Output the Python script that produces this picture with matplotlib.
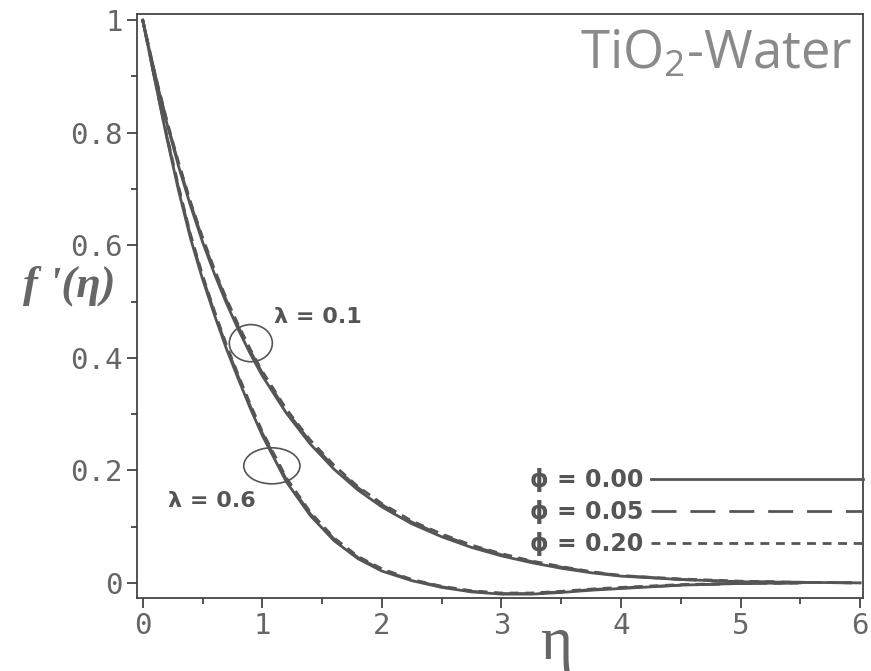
import numpy as np
import matplotlib
matplotlib.use('Agg')
import matplotlib.pyplot as plt
from matplotlib.patches import Ellipse

plt.rcParams['mathtext.fontset'] = 'custom'
plt.rcParams['mathtext.rm'] = 'Open Sans'

# velocity profiles f'(eta) for TiO2-water, two values of lambda, three of phi
eta_up = [0, 0.1, 0.2, 0.3, 0.4, 0.5, 0.6, 0.7, 0.8, 0.9, 1.0, 1.2, 1.4, 1.6, 1.8, 2.0,
          2.25, 2.5, 2.75, 3.0, 3.25, 3.5, 3.75, 4.0, 4.5, 5.0, 5.5, 6.0]
up_phi000 = [1.0, 0.905, 0.818, 0.740, 0.670, 0.606, 0.549, 0.497, 0.450, 0.407, 0.368, 0.302,
             0.247, 0.202, 0.165, 0.135, 0.105, 0.082, 0.063, 0.048, 0.036, 0.026, 0.018, 0.012,
             0.006, 0.002, 0.001, 0.0]
up_phi005 = [1.0, 0.906, 0.821, 0.744, 0.674, 0.611, 0.554, 0.502, 0.455, 0.412, 0.373, 0.306,
             0.251, 0.206, 0.169, 0.139, 0.108, 0.085, 0.066, 0.050, 0.038, 0.028, 0.019, 0.013,
             0.006, 0.002, 0.001, 0.0]
up_phi020 = [1.0, 0.907, 0.823, 0.747, 0.677, 0.614, 0.557, 0.505, 0.458, 0.415, 0.376, 0.309,
             0.254, 0.209, 0.171, 0.141, 0.110, 0.087, 0.067, 0.052, 0.039, 0.029, 0.020, 0.013,
             0.007, 0.003, 0.001, 0.0]

eta_lo = [0, 0.1, 0.2, 0.3, 0.4, 0.5, 0.6, 0.7, 0.8, 0.9, 1.0, 1.2, 1.4, 1.6, 1.8, 2.0,
          2.25, 2.5, 2.75, 3.0, 3.25, 3.5, 3.75, 4.0, 4.5, 5.0, 5.5]
lo_phi000 = [1.0, 0.895, 0.792, 0.697, 0.612, 0.540, 0.476, 0.416, 0.362, 0.310, 0.262, 0.180,
             0.120, 0.075, 0.043, 0.021, 0.004, -0.008, -0.016, -0.020, -0.020, -0.017, -0.013,
             -0.010, -0.004, -0.001, 0.0]
lo_phi005 = [1.0, 0.896, 0.795, 0.701, 0.616, 0.544, 0.480, 0.420, 0.366, 0.314, 0.266, 0.184,
             0.123, 0.078, 0.045, 0.023, 0.005, -0.007, -0.015, -0.019, -0.019, -0.016, -0.012,
             -0.009, -0.004, -0.001, 0.0]
lo_phi020 = [1.0, 0.897, 0.797, 0.704, 0.619, 0.547, 0.483, 0.423, 0.369, 0.317, 0.269, 0.187,
             0.126, 0.080, 0.047, 0.025, 0.006, -0.006, -0.014, -0.018, -0.018, -0.015, -0.011,
             -0.008, -0.003, -0.001, 0.0]

phi_labels = ['ϕ = 0.00', 'ϕ = 0.05', 'ϕ = 0.20']
lam_labels = ['λ = 0.1', 'λ = 0.6']

grey = '#555555'
fig = plt.figure(figsize=(8.71, 6.71), dpi=100)
ax = fig.add_axes([0.157, 0.109, 0.834, 0.870])

styles = [dict(ls='-'), dict(ls=(0, (9, 5))), dict(ls=(0, (3.2, 2.4)))]
handles = []
for ys, st, lab in zip([up_phi000, up_phi005, up_phi020], styles, phi_labels):
    h, = ax.plot(eta_up, ys, color=grey, lw=2.0, label=lab, **st)
    handles.append(h)
for ys, st in zip([lo_phi000, lo_phi005, lo_phi020], styles):
    ax.plot(eta_lo, ys, color=grey, lw=2.0, **st)

# ellipses marking the two curve families
ax.add_patch(Ellipse((0.904, 0.426), 0.36, 0.066, fill=False, ec=grey, lw=1.2))
ax.add_patch(Ellipse((1.08, 0.208), 0.47, 0.064, fill=False, ec=grey, lw=1.2))
ax.text(1.10, 0.472, lam_labels[0], fontsize=16, fontweight='bold', color=grey, va='center')
ax.text(0.21, 0.146, lam_labels[1], fontsize=16, fontweight='bold', color=grey, va='center')

ax.text(0.985, 0.907, r'TiO$_{2}$-Water', transform=ax.transAxes, ha='right', va='baseline',
        fontsize=38, family='Open Sans', color='#8a8a8a')

leg = ax.legend(handles=handles, loc='upper right', bbox_to_anchor=(1.0, 0.222),
                markerfirst=False, frameon=False, handlelength=9.0, handletextpad=0.3,
                labelspacing=0.33, borderpad=0, borderaxespad=0,
                prop=dict(size=17, weight='bold'))
for t in leg.get_texts():
    t.set_color(grey)

ax.set_xlim(-0.05, 6.025)
ax.set_ylim(-0.0266, 1.0107)
ax.set_xticks(np.arange(0, 7, 1))
ax.set_xticks(np.arange(0.5, 6, 1), minor=True)
ax.set_yticks([0, 0.2, 0.4, 0.6, 0.8, 1])
ax.set_yticks(np.arange(0.1, 1.0, 0.2), minor=True)
ax.set_yticklabels(['0', '0.2', '0.4', '0.6', '0.8', '1'])
ax.tick_params(which='both', direction='out', color='#444444', width=1.3,
               top=False, right=False, labelcolor='#666666', labelsize=21)
ax.tick_params(which='major', length=7, pad=3)
ax.tick_params(which='minor', length=4.5)
for lbl in ax.get_xticklabels() + ax.get_yticklabels():
    lbl.set_family('DejaVu Sans Mono')
for sp in ax.spines.values():
    sp.set_color('#444444')
    sp.set_linewidth(1.3)

ax.set_xlabel('η', fontsize=44, family='Liberation Serif', color='#666666')
ax.xaxis.label.set_va('baseline')
ax.xaxis.set_label_coords(0.577, -0.104)
ax.set_ylabel("f '(η)", fontsize=32, family='Liberation Serif', style='italic',
              weight='bold', color='#666666', rotation=0, ha='center', va='center')
ax.yaxis.set_label_coords(-0.093, 0.534)

fig.savefig('out.png', dpi=100)
